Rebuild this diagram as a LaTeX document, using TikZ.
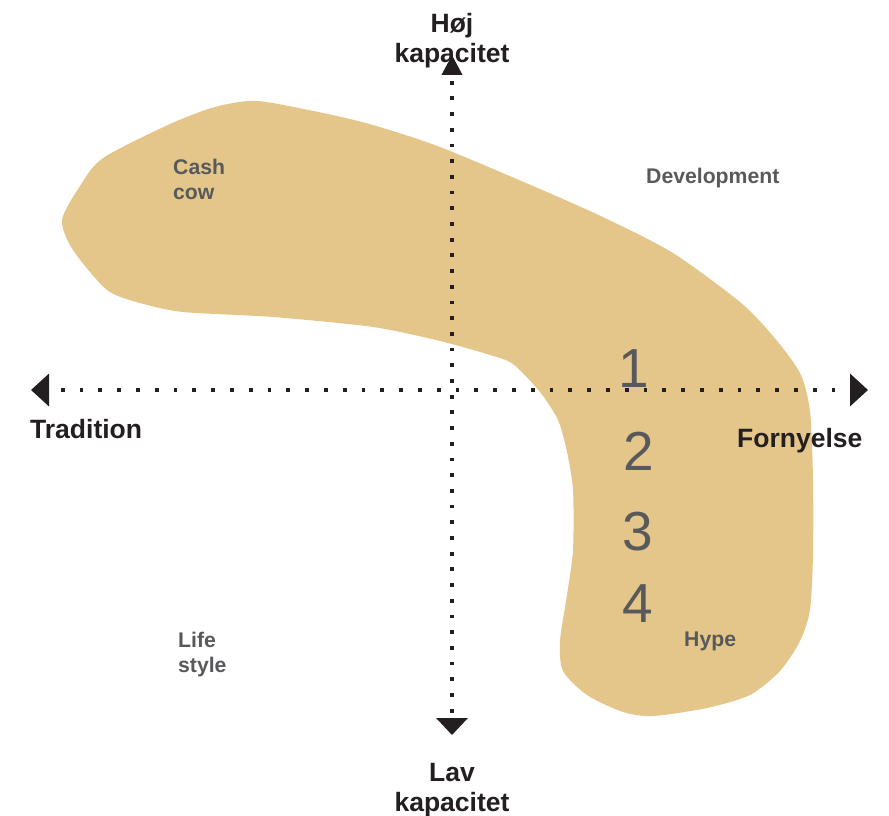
\documentclass[tikz,border=0pt]{standalone}
\usepackage{fontspec}
\setmainfont{Liberation Sans}
\usetikzlibrary{arrows.meta}
\definecolor{sand}{HTML}{E5C68A}
\definecolor{ink}{HTML}{231F20}
\definecolor{slate}{HTML}{58595B}

\begin{document}
\begin{tikzpicture}[x=1pt,y=-1pt,
  axis/.style={ink, line width=3.8pt},
  pole/.style={font=\fontsize{26.5}{30}\selectfont\bfseries, text=ink, inner sep=0pt, align=center},
  quad/.style={font=\fontsize{21.2}{24.5}\selectfont\bfseries, text=slate, inner sep=0pt, align=left},
  stage/.style={font=\fontsize{55}{55}\selectfont, text=slate, inner sep=0pt}]

  \useasboundingbox (0,0) rectangle (889,816);

  % market blob
  \fill[sand] plot[smooth cycle, tension=0.45] coordinates {
    (62,220) (80,186) (103,158) (170,124) (215,107) (257,101) (323,113)
    (373,125) (440,147) (540,189) (607,219) (673,253) (740,302) (773,336)
    (800,373) (810,411) (813,479) (813,554) (810,610) (800,641) (780,671)
    (750,695) (707,708) (653,716) (623,712) (587,695) (563,671) (560,641)
    (567,595) (573,550) (573,490) (567,452) (558,420) (540,392) (513,364)
    (490,355) (440,341) (373,327) (273,317) (183,312) (140,303) (107,290)
    (73,250)};

  % axes
  \coordinate (west) at (31,390);
  \coordinate (east) at (868,390);
  \coordinate (north) at (452,55);
  \coordinate (south) at (452,735);

  \draw[axis, dash pattern=on 3.8pt off 15pt, dash phase=6pt,
        {Triangle[length=18pt,width=32pt]}-{Triangle[length=18pt,width=32pt]}]
        (west) -- (east);
  \draw[axis, dash pattern=on 3.8pt off 11.9pt, dash phase=9pt,
        {Triangle[length=20pt,width=20pt]}-{Triangle[length=17pt,width=31pt]}]
        (north) -- (south);

  % axis ends
  \node[pole] (high) at (452,41) {Høj\\kapacitet};
  \node[pole] (low) at (452,790) {Lav\\kapacitet};
  \node[pole, anchor=base west] (trad) at (30,438) {Tradition};
  \node[pole, anchor=base west] (renew) at (737,447) {Fornyelse};

  % quadrants
  \node[quad, anchor=north west] (cash) at (173,159) {Cash\\cow};
  \node[quad, anchor=base west] (dev) at (646,183) {Development};
  \node[quad, anchor=north west] (life) at (178,632) {Life\\style};
  \node[quad, anchor=base west] (hype) at (684,646) {Hype};

  % stages
  \node[stage, anchor=base] (s1) at (634,387) {1};
  \node[stage, anchor=base] (s2) at (639,470) {2};
  \node[stage, anchor=base] (s3) at (638,550) {3};
  \node[stage, anchor=base] (s4) at (638,622) {4};

\end{tikzpicture}
\end{document}
